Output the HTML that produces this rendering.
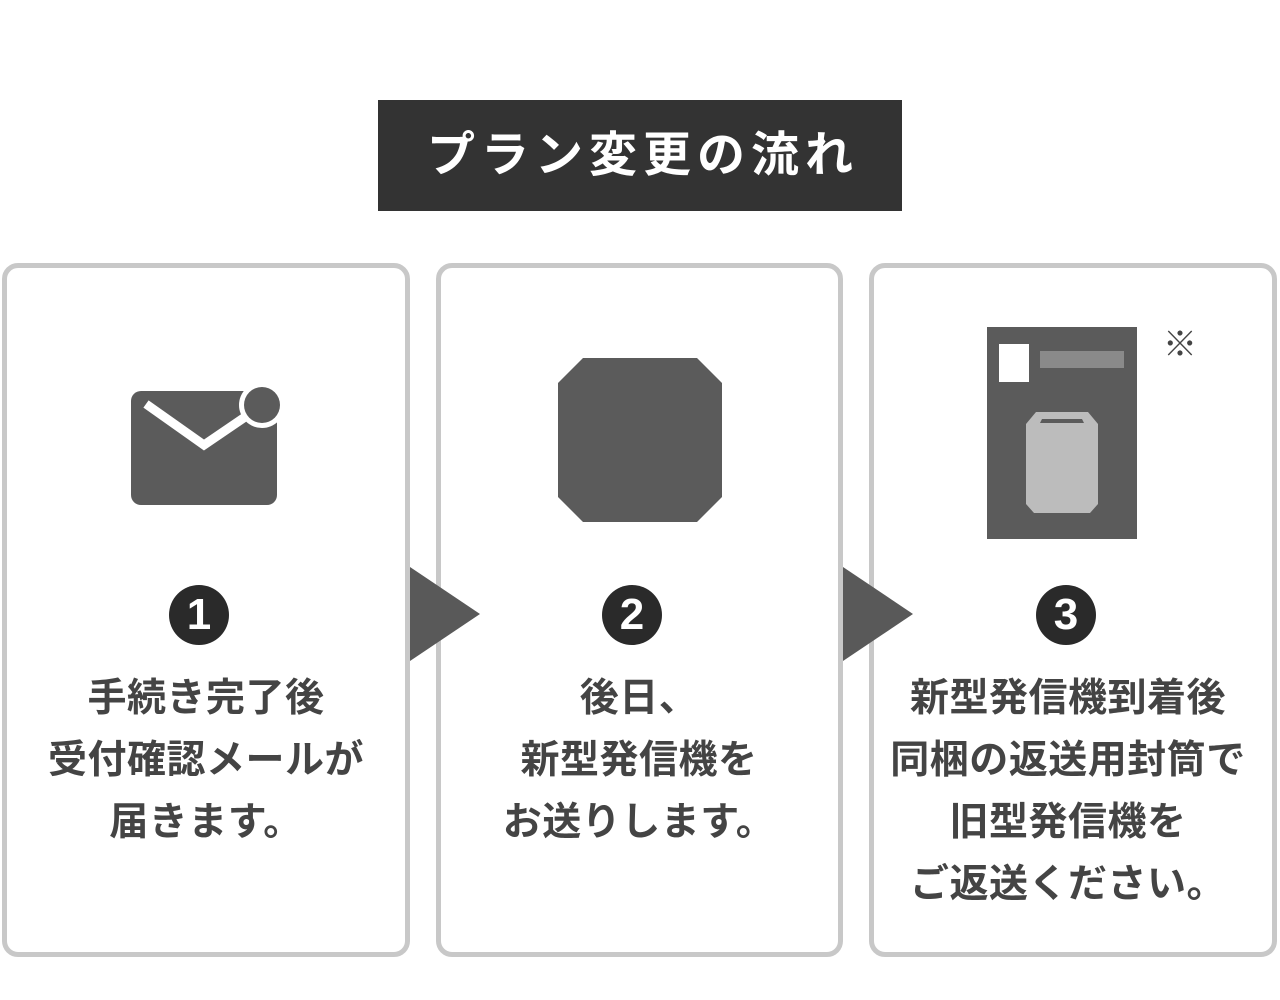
<!DOCTYPE html>
<html><head><meta charset="utf-8"><style>
body{margin:0;width:1280px;height:1000px;background:#fff;position:relative;overflow:hidden;font-family:"Liberation Sans","Noto Sans CJK JP",sans-serif}
.title{position:absolute;left:378px;top:100px;width:524px;height:111px;background:#333;color:#fff;font-size:48px;font-weight:bold;text-align:center;line-height:111px;letter-spacing:6px;text-indent:6px}
.p{position:absolute;top:263px;height:684px;border:5px solid #c8c8c8;border-radius:16px;box-sizing:content-box}
.t{position:absolute;width:420px;text-align:center;font-size:39px;font-weight:bold;color:#444;line-height:62px;top:668px;letter-spacing:0.5px}
.n{position:absolute;top:585px;width:60px;height:60px;border-radius:50%;background:#2a2a2a;color:#fff;font-weight:bold;font-size:44px;text-align:center;line-height:60px}
</style></head><body>
<div class="title">プラン変更の流れ</div>
<div class="p" style="left:2px;width:398px"></div>
<div class="p" style="left:436px;width:397px"></div>
<div class="p" style="left:869px;width:398px"></div>
<svg width="1280" height="1000" style="position:absolute;left:0;top:0">
<polygon points="410,567 480,614 410,661" fill="#595959"/>
<polygon points="843,567 913,614 843,661" fill="#595959"/>
<rect x="131" y="391" width="146" height="114" rx="10" fill="#5b5b5b"/>
<polyline points="146,404 204,445 248,415" fill="none" stroke="#fff" stroke-width="9"/>
<circle cx="262" cy="405" r="23" fill="#fff"/>
<circle cx="262" cy="405" r="18" fill="#5b5b5b"/>
<polygon points="583,358 697,358 722,383 722,497 697,522 583,522 558,497 558,383" fill="#5b5b5b"/>
<rect x="987" y="327" width="150" height="212" fill="#5b5b5b"/>
<rect x="999" y="344" width="30" height="38" fill="#fff"/>
<rect x="1040" y="351" width="84" height="17" fill="#8a8a8a"/>
<polygon points="1036,412 1088,412 1098,424 1098,504 1090,513 1034,513 1026,504 1026,424" fill="#bcbcbc"/>
<polygon points="1042,419 1082,419 1084,423 1040,423" fill="#5b5b5b"/>
<text x="1180" y="356" font-size="34" fill="#444" text-anchor="middle" font-family="Noto Sans CJK JP">※</text>
</svg>
<div class="n" style="left:169px">1</div>
<div class="n" style="left:602px">2</div>
<div class="n" style="left:1036px">3</div>
<div class="t" style="left:-4px">手続き完了後<br>受付確認メールが<br>届きます。</div>
<div class="t" style="left:429px">後日、<br>新型発信機を<br>お送りします。</div>
<div class="t" style="left:863px;width:410px">新型発信機到着後<br>同梱の返送用封筒で<br>旧型発信機を<br>ご返送ください。</div>
</body></html>
